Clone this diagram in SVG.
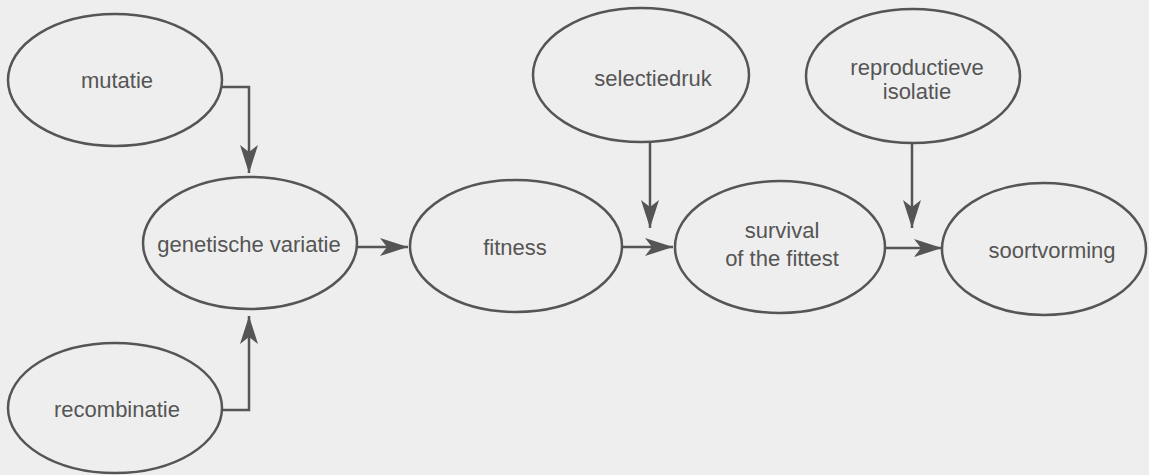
<svg xmlns="http://www.w3.org/2000/svg" width="1149" height="475" viewBox="0 0 1149 475">
<style>
.node ellipse{fill:none;stroke:#555;stroke-width:2.5}
.node text{font-family:"Liberation Sans",Arial,sans-serif;font-size:22px;fill:#555;text-anchor:middle}
.edge{fill:none;stroke:#555;stroke-width:2.5}
</style>
<defs>
<marker id="arr" markerUnits="userSpaceOnUse" markerWidth="30" markerHeight="20" refX="28" refY="9" orient="auto" viewBox="0 0 30 20">
<path d="M0,0 L28,9 L0,18 L7,9 z" fill="#555"/>
</marker>
</defs>
<rect width="1149" height="475" fill="#eeeeee"/>
<g id="connectors">
<path class="edge" d="M222,87 H249 V173" marker-end="url(#arr)"/>
<path class="edge" d="M222,410 H249 V316" marker-end="url(#arr)"/>
<path class="edge" d="M357,247 H408" marker-end="url(#arr)"/>
<path class="edge" d="M622,247 H673" marker-end="url(#arr)"/>
<path class="edge" d="M885,248 H942" marker-end="url(#arr)"/>
<path class="edge" d="M650,142 V228" marker-end="url(#arr)"/>
<path class="edge" d="M912,143 V228" marker-end="url(#arr)"/>
</g>
<g id="mutatie" class="node"><ellipse cx="115" cy="80" rx="107" ry="66"/><text x="117" y="88">mutatie</text></g>
<g id="genetische-variatie" class="node"><ellipse cx="250" cy="243" rx="107" ry="66"/><text x="249" y="252">genetische variatie</text></g>
<g id="recombinatie" class="node"><ellipse cx="115" cy="408" rx="107" ry="65"/><text x="117" y="417">recombinatie</text></g>
<g id="fitness" class="node"><ellipse cx="516" cy="246" rx="106" ry="66"/><text x="515" y="255">fitness</text></g>
<g id="selectiedruk" class="node"><ellipse cx="641" cy="75" rx="108" ry="67"/><text x="653" y="86">selectiedruk</text></g>
<g id="survival" class="node"><ellipse cx="780" cy="247" rx="105" ry="66"/><text x="782" y="238">survival</text><text x="782" y="266">of the fittest</text></g>
<g id="reproductieve-isolatie" class="node"><ellipse cx="913" cy="76" rx="107" ry="67"/><text x="917" y="75">reproductieve</text><text x="917" y="99">isolatie</text></g>
<g id="soortvorming" class="node"><ellipse cx="1044" cy="249" rx="102" ry="66"/><text x="1052" y="258">soortvorming</text></g>
</svg>
